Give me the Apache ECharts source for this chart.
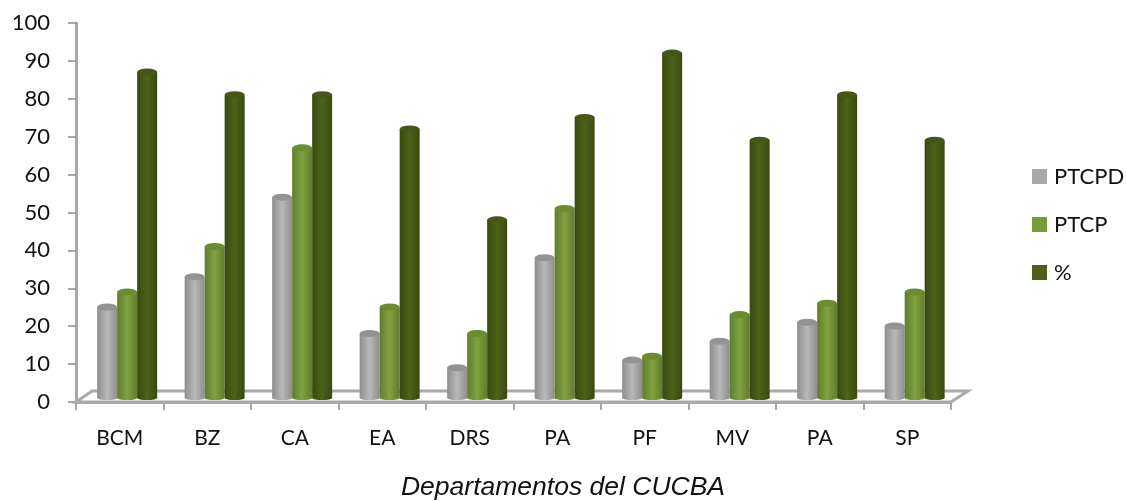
<!DOCTYPE html>
<html><head><meta charset="utf-8">
<script src="https://cdn.jsdelivr.net/npm/echarts@6/dist/echarts.min.js"></script>
<style>html,body{margin:0;padding:0;background:#fff}#c{width:1126px;height:501px}</style>
</head><body><div id="c"></div>
<script>
const categories = ['BCM','BZ','CA','EA','DRS','PA','PF','MV','PA','SP'];
const ptcpd = [24,32,53,17,8,37,10,15,20,19];
const ptcp = [28,40,66,24,17,50,11,22,25,28];
const pct = [86,80,80,71,47,74,91,68,80,68];
const axisTitle = 'Departamentos del CUCBA';
const yTicks = {min:0,max:100,interval:10};

const fontName = 'Lato';
const axisGray = '#a9a9a9';
const tickGray = '#8c8c8c';
function grad(a,b){return {type:'linear',x:0,y:0,x2:1,y2:0,colorStops:[{offset:0,color:a},{offset:.5,color:b},{offset:1,color:a}]};}
const defs = [
 {name:'PTCPD',data:ptcpd,off:-20,flat:'#a9a9a9',edge:'#8e8e8e',mid:'#b8b8b8',cap:'#939393'},
 {name:'PTCP',data:ptcp,off:0,flat:'#7a9a3a',edge:'#607c2e',mid:'#80a23e',cap:'#6c8c33'},
 {name:'%',data:pct,off:20,flat:'#4c5f1c',edge:'#39490f',mid:'#4e6219',cap:'#46561a'}
];
const series = [];
defs.forEach(d=>{
  series.push({name:d.name,type:'bar',xAxisIndex:1,yAxisIndex:1,data:d.data,barWidth:20,barGap:0,z:3,
    itemStyle:{color:grad(d.edge,d.mid)},silent:true});
});
defs.forEach(d=>{
  series.push({name:d.name+' cap',type:'pictorialBar',xAxisIndex:1,yAxisIndex:1,data:d.data,symbol:'circle',
    symbolSize:[20,7],symbolPosition:'end',symbolOffset:[d.off,-3.5],barWidth:20,barGap:'-100%',z:4,
    itemStyle:{color:d.cap},silent:true});
  series.push({name:d.name+' base',type:'pictorialBar',xAxisIndex:1,yAxisIndex:1,data:d.data,symbol:'circle',
    symbolSize:[20,4],symbolPosition:'start',symbolOffset:[d.off,2],barWidth:20,barGap:'-100%',z:3,
    itemStyle:{color:grad(d.edge,d.mid)},silent:true});
});
const chart = echarts.init(document.getElementById('c'),null,{renderer:'canvas'});
chart.setOption({
  animation:false,
  backgroundColor:'#fff',
  textStyle:{fontFamily:fontName},
  title:{text:axisTitle,left:558,top:469,textAlign:'center',
    textStyle:{fontFamily:'Liberation Sans',fontStyle:'italic',fontWeight:'normal',fontSize:26.5,color:'#111'}},
  grid:[
    {left:76,top:23,width:875,height:379},
    {left:83.4,top:19,width:875,height:379}
  ],
  xAxis:[
    {type:'category',gridIndex:0,data:categories,boundaryGap:true,
     axisLine:{show:true,lineStyle:{color:axisGray,width:3}},
     axisTick:{show:true,length:8,alignWithLabel:false,lineStyle:{color:tickGray,width:1.5}},
     axisLabel:{color:'#111',fontSize:21,margin:26,fontFamily:fontName}},
    {type:'category',gridIndex:1,data:categories,show:false}
  ],
  yAxis:[
    {type:'value',gridIndex:0,min:yTicks.min,max:yTicks.max,interval:yTicks.interval,
     axisLine:{show:true,lineStyle:{color:axisGray,width:3}},
     axisTick:{show:true,length:8,lineStyle:{color:tickGray,width:1.5}},
     splitLine:{show:false},
     axisLabel:{color:'#111',fontSize:22,margin:26,padding:[3,0,0,0],fontFamily:fontName}},
    {type:'value',gridIndex:1,min:yTicks.min,max:yTicks.max,interval:yTicks.interval,show:false,splitLine:{show:false}}
  ],
  legend:{orient:'vertical',left:1032,top:165.5,padding:0,itemWidth:15,itemHeight:15,itemGap:26,
    textStyle:{fontSize:22,color:'#111',fontFamily:fontName,padding:[0,0,0,2]},
    icon:'rect',selectedMode:false,
    data:defs.map(d=>({name:d.name,itemStyle:{color:d.flat}}))},
  graphic:[{type:'polygon',z:1,silent:true,
    shape:{points:[[76,402],[92,391],[968,391],[951,402]]},
    style:{fill:'#fff',stroke:axisGray,lineWidth:3}}],
  series
});
</script></body></html>
